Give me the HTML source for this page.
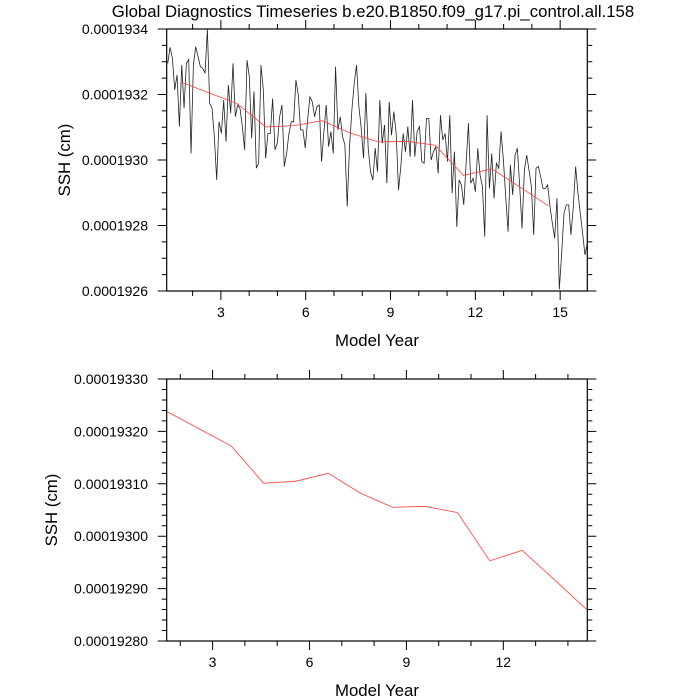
<!DOCTYPE html>
<html><head><meta charset="utf-8"><style>
body{margin:0;background:#fff}
svg{display:block;font-family:"Liberation Sans",Arial,sans-serif}
</style></head><body>
<svg id="chart" width="700" height="700" viewBox="0 0 700 700" xmlns="http://www.w3.org/2000/svg">
<text x="373" y="17" font-size="16.8" text-anchor="middle">Global Diagnostics Timeseries b.e20.B1850.f09_g17.pi_control.all.158</text>
</svg>
<script>
// monthly SSH (units of 1e-7 cm)
const monthlySSH = [1932.95,1933.44,1933.10,1932.14,1932.60,1931.02,1932.90,1931.58,1932.95,1933.07,1930.20,1932.90,1933.46,1933.16,1932.85,1932.80,1932.65,1933.99,1931.73,1931.58,1930.71,1929.39,1931.17,1930.81,1931.83,1930.56,1932.29,1931.43,1932.95,1931.32,1931.68,1931.58,1931.02,1930.31,1933.05,1932.54,1930.66,1932.09,1929.75,1929.90,1932.90,1932.14,1930.05,1930.81,1930.81,1931.88,1930.31,1930.51,1931.32,1931.68,1929.80,1930.20,1930.81,1931.17,1931.17,1932.44,1931.98,1930.92,1930.92,1930.36,1931.22,1931.93,1931.78,1931.32,1931.63,1931.68,1929.95,1930.87,1931.68,1930.41,1930.87,1930.20,1932.85,1930.92,1931.32,1930.71,1930.46,1928.58,1930.41,1931.53,1932.34,1932.90,1931.63,1930.97,1930.05,1932.04,1930.36,1929.64,1929.39,1930.36,1929.64,1931.83,1930.51,1931.07,1929.29,1931.78,1930.76,1931.48,1930.81,1929.08,1929.80,1930.81,1930.25,1931.02,1930.10,1931.83,1930.10,1930.87,1931.02,1929.95,1929.90,1931.27,1931.27,1930.00,1930.25,1930.41,1929.59,1931.37,1930.61,1930.81,1929.95,1931.37,1928.98,1930.25,1927.96,1929.39,1929.24,1928.63,1929.90,1931.12,1929.29,1929.44,1929.03,1930.36,1929.54,1929.19,1927.66,1931.37,1929.13,1930.20,1928.83,1929.90,1929.75,1930.87,1930.00,1928.88,1927.81,1929.85,1928.93,1930.15,1930.36,1929.19,1927.91,1929.69,1930.15,1929.69,1929.19,1927.71,1929.75,1929.80,1929.49,1929.13,1929.13,1929.24,1928.58,1928.07,1927.61,1928.83,1926.05,1927.15,1928.37,1928.63,1928.63,1927.71,1928.58,1929.80,1928.98,1928.37,1927.76,1927.10,1927.46];
// annual means
const annualYears = [1.58,2.58,3.58,4.58,5.58,6.58,7.58,8.58,9.58,10.58,11.58,12.58,13.58,14.58];
const annualSSH = [1932.38,1932.05,1931.72,1931.01,1931.05,1931.20,1930.82,1930.55,1930.57,1930.45,1929.53,1929.73,1929.17,1928.60];
const topYTicks = [1926,1928,1930,1932,1934];
const topYLabels = ["0.0001926","0.0001928","0.0001930","0.0001932","0.0001934"];
const botYTicks = [1928.0,1929.0,1930.0,1931.0,1932.0,1933.0];
const botYLabels = ["0.00019280","0.00019290","0.00019300","0.00019310","0.00019320","0.00019330"];
const topXTicks = [3,6,9,12,15];
const botXTicks = [3,6,9,12];

const NS="http://www.w3.org/2000/svg";
const svg=document.getElementById('chart');
function mk(tag,attrs,parent){const e=document.createElementNS(NS,tag);for(const k in attrs)e.setAttribute(k,attrs[k]);(parent||svg).appendChild(e);return e;}

function panel(cfg){
  const g=mk('g',{});
  
  
  const L=166.7,R=587.3,T=cfg.top,B=cfg.bottom;
  const sx=v=>L+(v-cfg.x0)/(cfg.x1-cfg.x0)*(R-L);
  const sy=v=>B-(v-cfg.y0)/(cfg.y1-cfg.y0)*(B-T);
  let d='';
  for(let y=Math.ceil(cfg.x0);y<=cfg.x1;y++){
    const x=sx(y);const major=cfg.xTicks.includes(y);const len=major?9:5;
    d+=`M${x},${B}v${len}M${x},${T}v${-len}`;
  }
  const nMin=Math.round((cfg.y1-cfg.y0)/cfg.yMinor);
  for(let i=0;i<=nMin;i++){
    const v=cfg.y0+i*cfg.yMinor;const y=sy(v);
    const major=cfg.yTicks.some(t=>Math.abs(t-v)<1e-6);const len=major?9:5;
    d+=`M${L},${y}h${-len}M${R},${y}h${len}`;
  }
  const tk=mk('path',{d:d,stroke:'#000','stroke-width':1,fill:'none'},g);
  
  
  cfg.yTicks.forEach((t,i)=>{
    const tx=mk('text',{x:148,y:sy(t)+5,'font-size':14,'text-anchor':'end'},g);
    tx.textContent=cfg.yLabels[i];
    
    
  });
  cfg.xTicks.forEach(t=>{
    const tx=mk('text',{x:sx(t),y:B+26,'font-size':14,'text-anchor':'middle'},g);
    tx.textContent=String(t);
    
    
  });
  const xt=mk('text',{x:377,y:B+55,'font-size':16.8,'text-anchor':'middle'},g);
  xt.textContent='Model Year';
  
  
  const cy=(T+B)/2;
  const yt=mk('text',{x:0,y:0,'font-size':16.8,'text-anchor':'middle',transform:`translate(${cfg.ytx},${cy}) rotate(-90)`},g);
  yt.textContent='SSH (cm)';
  
  
  const cid='clip'+cfg.name;
  const cp=mk('clipPath',{id:cid},g);mk('rect',{x:L,y:T,width:R-L,height:B-T},cp);
  if(cfg.monthly){
    const n=cfg.monthly.length;
    const pts=cfg.monthly.map((v,i)=>`${sx(cfg.mx0+i*(cfg.mx1-cfg.mx0)/(n-1)).toFixed(2)},${sy(v).toFixed(2)}`).join(' ');
    const pl=mk('polyline',{points:pts,fill:'none',stroke:'#222','stroke-width':0.8,'clip-path':`url(#${cid})`},g);
    
    
  }
  const apts=annualYears.map((yr,i)=>`${sx(yr).toFixed(2)},${sy(annualSSH[i]).toFixed(2)}`).join(' ');
  const al=mk('polyline',{points:apts,fill:'none',stroke:'#ff4040','stroke-width':0.8,'clip-path':`url(#${cid})`},g);
  
  
  const fr=mk('rect',{x:L,y:T,width:R-L,height:B-T,fill:'none',stroke:'#000','stroke-width':1.2},g);
  
  
}
panel({name:'top-panel',top:29,bottom:291,x0:1.083,x1:15.96,y0:1926,y1:1934,yMinor:0.5,
  yTicks:topYTicks,yLabels:topYLabels,xTicks:topXTicks,ytx:70,monthly:monthlySSH,mx0:1.12,mx1:15.96});
panel({name:'bottom-panel',top:379,bottom:641,x0:1.58,x1:14.6,y0:1928,y1:1933,yMinor:0.2,
  yTicks:botYTicks,yLabels:botYLabels,xTicks:botXTicks,ytx:57});
</script>
</body></html>
